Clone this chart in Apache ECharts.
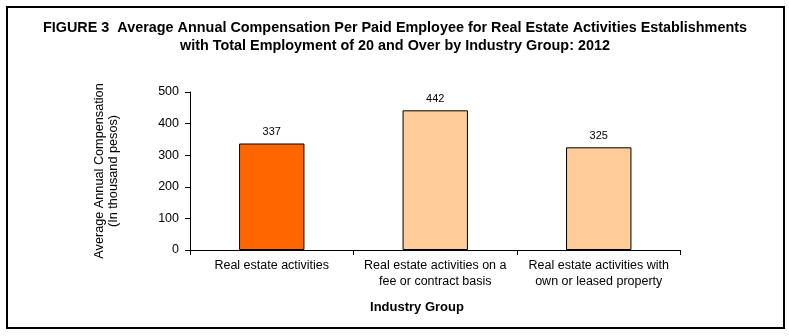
<!DOCTYPE html>
<html><head><meta charset="utf-8">
<script src="https://cdn.jsdelivr.net/npm/echarts@6/dist/echarts.min.js"></script>
<style>html,body{margin:0;padding:0;background:#fff}#c{width:789px;height:336px}</style>
</head><body><div id="c"></div>
<script>
const categories = ["Real estate activities", "Real estate activities on a\nfee or contract basis", "Real estate activities with\nown or leased property"];
const values = [337, 442, 325];
const barColors = ["#FF6600", "#FFCC99", "#FFCC99"];
const yTicks = [0, 100, 200, 300, 400, 500];

const chart = echarts.init(document.getElementById('c'));
const F = 'Liberation Sans, Arial, sans-serif';
chart.setOption({
  animation: false,
  backgroundColor: '#fff',
  title: {
    text: 'FIGURE 3  Average Annual Compensation Per Paid Employee for Real Estate Activities Establishments\nwith Total Employment of 20 and Over by Industry Group: 2012',
    left: 390, top: 14, textAlign: 'center',
    textStyle: {fontFamily: F, fontSize: 14.4, fontWeight: 'bold', color: '#000', lineHeight: 18}
  },
  graphic: [
    {type: 'rect', shape: {x: 7, y: 7, width: 777, height: 321}, style: {fill: 'none', stroke: '#000', lineWidth: 2}},
    {type: 'text', style: {text: 'Industry Group', x: 417, y: 307, textAlign: 'center', textVerticalAlign: 'middle', font: 'bold 13px Liberation Sans, Arial, sans-serif', fill: '#000'}}
  ],
  grid: {left: 190, right: 108.5, top: 92, bottom: 86, containLabel: false},
  xAxis: {
    type: 'category', data: categories,
    axisLine: {lineStyle: {color: '#000', width: 1}},
    axisTick: {show: true, length: 5, lineStyle: {color: '#000'}},
    axisLabel: {fontFamily: F, fontSize: 12.5, color: '#000', margin: 8, lineHeight: 16, interval: 0}
  },
  yAxis: {
    type: 'value', min: yTicks[0], max: yTicks[yTicks.length - 1], interval: 100,
    name: 'Average Annual Compensation\n(In thousand pesos)',
    nameLocation: 'middle', nameGap: 70, nameRotate: 90,
    nameTextStyle: {fontFamily: F, fontSize: 12.7, color: '#000', lineHeight: 14},
    axisLine: {show: true, lineStyle: {color: '#000'}},
    axisTick: {show: true, length: 5, lineStyle: {color: '#000'}},
    axisLabel: {fontFamily: F, fontSize: 12.5, color: '#000', margin: 11},
    splitLine: {show: false}
  },
  series: [{
    type: 'bar', barWidth: '40%',
    data: values.map((v, i) => ({value: v, itemStyle: {color: barColors[i]}})),
    itemStyle: {borderColor: '#000', borderWidth: 1},
    label: {show: true, position: 'top', distance: 6, fontFamily: F, fontSize: 11, color: '#000'}
  }]
});
</script></body></html>
